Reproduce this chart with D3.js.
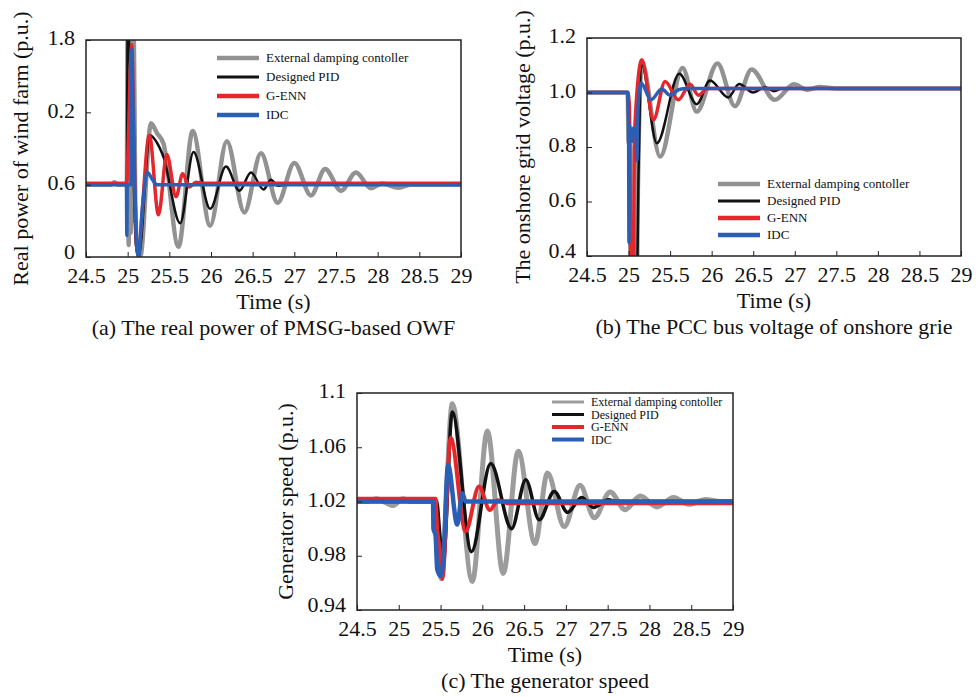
<!DOCTYPE html>
<html>
<head>
<meta charset="utf-8">
<script src="https://cdn.jsdelivr.net/npm/d3@7/dist/d3.min.js"></script>
<style>
  body { margin:0; background:#fff; }
  text { font-family: "Liberation Serif", "Times New Roman", serif; fill:#111; }
</style>
</head>
<body>
<div id="chart"></div>
<script>
// legend names, same for all three panels (typo kept from the figure)
const seriesNames = ["External damping contoller", "Designed PID", "G-ENN", "IDC"]

// x axis, shared
const timeTicks = [24.5, 25, 25.5, 26, 26.5, 27, 27.5, 28, 28.5, 29]
const timeLabels = ["24.5", "25", "25.5", "26", "26.5", "27", "27.5", "28", "28.5", "29"]

// (a) real power, y tick labels are printed like this in the original
const powerTicks = [0, 0.6, 1.2, 1.8]
const powerLabels = ["0", "0.6", "0.2", "1.8"]
const powerExt = [[24.5,0.6],[24.8,0.6],[24.84,0.62],[24.88,0.6],[24.99,0.6],[25.0,2.0],[25.012,0.1],[25.024,2.0],[25.036,0.2],[25.048,2.0],[25.06,0.3],[25.072,2.0],[25.09,0.5],[25.11,0.1],[25.15,0.0],[25.28,1.11],[25.35,1.03],[25.43,0.94],[25.61,0.085],[25.78,1.045],[25.99,0.26],[26.19,0.96],[26.4,0.37],[26.6,0.86],[26.8,0.45],[27.0,0.78],[27.2,0.51],[27.37,0.73],[27.56,0.55],[27.74,0.70],[27.92,0.57],[28.05,0.61],[28.25,0.575],[28.4,0.6],[29,0.6]]
const powerPid = [[24.5,0.6],[24.99,0.6],[25.0,1.9],[25.05,1.2],[25.1,0.1],[25.13,0.0],[25.27,1.01],[25.35,0.95],[25.43,0.83],[25.63,0.28],[25.79,0.87],[25.99,0.40],[26.18,0.75],[26.34,0.55],[26.48,0.70],[26.63,0.56],[26.72,0.64],[26.8,0.59],[26.9,0.6],[29,0.6]]
const powerGenn = [[24.5,0.612],[24.99,0.612],[25.0,0.8],[25.05,1.76],[25.07,1.2],[25.1,0.2],[25.12,0.05],[25.26,1.01],[25.37,0.35],[25.47,0.85],[25.58,0.50],[25.66,0.69],[25.74,0.58],[25.82,0.62],[25.9,0.612],[29,0.612]]
const powerIdc = [[24.5,0.6],[24.985,0.6],[24.99,0.18],[24.995,0.6],[25.04,0.6],[25.05,1.72],[25.07,1.0],[25.09,0.5],[25.11,0.07],[25.13,0.0],[25.17,0.35],[25.21,0.62],[25.235,0.70],[25.3,0.64],[25.35,0.6],[29,0.6]]

// (b) onshore grid voltage
const voltTicks = [0.4, 0.6, 0.8, 1.0, 1.2]
const voltLabels = ["0.4", "0.6", "0.8", "1.0", "1.2"]
const voltExt = [[24.5,1.0],[24.99,1.0],[25.0,0.82],[25.02,0.8],[25.03,0.3],[25.1,0.3],[25.11,0.6],[25.16,1.108],[25.38,0.765],[25.65,1.09],[25.82,0.93],[26.07,1.106],[26.28,0.95],[26.48,1.084],[26.76,0.973],[26.99,1.03],[27.15,1.01],[27.3,1.02],[27.5,1.015],[29,1.015]]
const voltPid = [[24.5,1.0],[24.99,1.0],[25.0,0.82],[25.03,0.3],[25.1,0.3],[25.12,0.7],[25.16,1.1],[25.34,0.814],[25.61,1.069],[25.82,0.957],[25.98,1.044],[26.2,0.982],[26.33,1.031],[26.5,1.0],[26.64,1.019],[26.75,1.005],[26.85,1.015],[29,1.015]]
const voltGenn = [[24.5,1.0],[24.99,1.0],[25.01,0.95],[25.03,0.3],[25.06,0.3],[25.07,0.84],[25.16,1.12],[25.3,0.9],[25.44,1.04],[25.6,0.973],[25.74,1.03],[25.84,0.99],[25.95,1.015],[29,1.015]]
const voltIdc = [[24.5,1.0],[24.99,1.0],[25.0,0.88],[25.005,0.45],[25.01,0.88],[25.04,0.82],[25.06,0.87],[25.09,0.84],[25.1,0.75],[25.115,0.95],[25.15,1.035],[25.27,0.973],[25.4,1.013],[25.5,0.99],[25.6,1.01],[25.7,1.015],[29,1.015]]

// (c) generator speed
const speedTicks = [0.94, 0.98, 1.02, 1.06, 1.1]
const speedLabels = ["0.94", "0.98", "1.02", "1.06", "1.1"]
const speedExt = [[24.5,1.02],[24.62,1.02],[24.73,1.022],[24.85,1.019],[24.93,1.017],[25.05,1.022],[25.15,1.02],[25.45,1.02],[25.47,0.99],[25.51,0.963],[25.64,1.092],[25.88,0.961],[26.06,1.072],[26.25,0.967],[26.43,1.057],[26.63,0.989],[26.78,1.041],[26.98,1.0015],[27.17,1.032],[27.34,1.008],[27.53,1.027],[27.71,1.014],[27.89,1.024],[28.09,1.016],[28.29,1.023],[28.47,1.018],[28.67,1.0215],[28.85,1.02],[29,1.02]]
const speedPid = [[24.5,1.02],[25.45,1.02],[25.5,0.99],[25.53,0.975],[25.64,1.086],[25.87,0.983],[26.1,1.048],[26.35,1.0],[26.52,1.036],[26.68,1.0065],[26.86,1.0274],[27.02,1.012],[27.19,1.023],[27.33,1.0156],[27.51,1.0212],[27.6,1.02],[29,1.02]]
const speedGenn = [[24.5,1.022],[25.44,1.022],[25.46,1.0],[25.49,0.985],[25.52,0.963],[25.62,1.067],[25.8,0.998],[25.96,1.031],[26.09,1.0138],[26.19,1.021],[26.3,1.0188],[29,1.0188]]
const speedIdc = [[24.5,1.02],[25.41,1.02],[25.415,1.0],[25.44,0.995],[25.46,0.97],[25.5,0.965],[25.53,0.975],[25.59,1.047],[25.7,1.003],[25.76,1.026],[25.8,1.02],[29,1.02]]

var W = 976, H = 697
var colours = ["#929292", "#111111", "#e5262b", "#2b5fb5"]

var svg = d3.select("#chart").append("svg")
  .attr("width", W)
  .attr("height", H)

svg.append("rect").attr("width", W).attr("height", H).attr("fill", "#fff")

// one panel = box, axes, 4 lines, legend, captions
function drawPanel(p) {
  var pw = p.right - p.left, ph = p.bottom - p.top
  var g = svg.append("g").attr("transform", `translate(${p.left},${p.top})`)

  var x = d3.scaleLinear().domain([24.5, 29]).range([0, pw])
  var y = d3.scaleLinear().domain(p.yDomain).range([ph, 0])

  g.append("clipPath").attr("id", "clip-" + p.id)
    .append("rect").attr("width", pw).attr("height", ph)

  var line = d3.line()
    .x(d => x(d[0]))
    .y(d => y(d[1]))
    .curve(d3.curveMonotoneX)

  var lines = g.append("g").attr("clip-path", `url(#clip-${p.id})`)
  p.series.forEach(function(s, i) {
    lines.append("path")
      .datum(s)
      .attr("d", line)
      .attr("fill", "none")
      .attr("stroke", p.colours[i])
      .attr("stroke-width", p.widths[i])
      .attr("stroke-linejoin", "round")
  })

  // ticks point inwards
  var xa = g.append("g").attr("transform", `translate(0,${ph})`)
    .call(d3.axisBottom(x).tickValues(timeTicks).tickFormat((d, i) => timeLabels[i]).tickSize(-5).tickPadding(10))
  var ya = g.append("g")
    .call(d3.axisLeft(y).tickValues(p.yTicks).tickFormat((d, i) => p.yLabels[i]).tickSize(-5).tickPadding(11))
  ;[xa, ya].forEach(function(a) {
    a.select(".domain").remove()
    a.selectAll("line").attr("stroke", "#222")
    a.selectAll("text").style("font-family", '"Liberation Serif", "Times New Roman", serif').style("font-size", "22px").attr("fill", "#111")
  })
  // labels sit a touch above their tick in the original,
  // the lowest one a bit more so it clears the 24.5 below it
  ya.selectAll("text").attr("dy", (d, i) => i == 0 ? "0.05em" : "0.22em")

  g.append("rect")
    .attr("width", pw).attr("height", ph)
    .attr("fill", "none").attr("stroke", "#222").attr("stroke-width", 1.5)

  // legend
  var lg = g.append("g").attr("transform", `translate(${p.legend.x},${p.legend.y})`)
  seriesNames.forEach(function(n, i) {
    var yy = i * p.legend.step
    lg.append("line")
      .attr("x1", 0).attr("x2", p.legend.len)
      .attr("y1", yy).attr("y2", yy)
      .attr("stroke", p.colours[i])
      .attr("stroke-width", p.legend.lw[i])
    lg.append("text")
      .attr("x", p.legend.len + 7).attr("y", yy)
      .attr("dy", "0.34em")
      .style("font-size", p.legend.fs + "px")
      .text(n)
  })

  g.append("text")
    .attr("x", pw / 2).attr("y", ph + 52)
    .attr("text-anchor", "middle")
    .style("font-size", "22px")
    .text("Time (s)")

  g.append("text")
    .attr("transform", `translate(${-p.titleOff},${ph / 2}) rotate(-90)`)
    .attr("text-anchor", "middle")
    .style("font-size", "22px")
    .text(p.yTitle)

  g.append("text")
    .attr("x", pw / 2).attr("y", ph + 78)
    .attr("text-anchor", "middle")
    .style("font-size", "22px")
    .text(p.caption)
}

drawPanel({
  id: "a", left: 86, right: 461, top: 40, bottom: 257,
  yDomain: [0, 1.8], yTicks: powerTicks, yLabels: powerLabels,
  series: [powerExt, powerPid, powerGenn, powerIdc],
  colours: colours, widths: [4.5, 2.5, 3.5, 3.5],
  yTitle: "Real power of wind farm (p.u.)", titleOff: 58,
  caption: "(a) The real power of PMSG-based OWF",
  legend: { x: 131, y: 18, step: 19, len: 42, fs: 13, lw: [4.5, 3, 4.5, 4.5] }
})

drawPanel({
  id: "b", left: 587, right: 961, top: 38, bottom: 256,
  yDomain: [0.4, 1.2], yTicks: voltTicks, yLabels: voltLabels,
  series: [voltExt, voltPid, voltGenn, voltIdc],
  colours: colours, widths: [4.5, 2.5, 3.5, 3.5],
  yTitle: "The onshore grid voltage (p.u.)", titleOff: 57,
  caption: "(b) The PCC bus voltage of onshore grie",
  legend: { x: 131, y: 146, step: 17, len: 42, fs: 13, lw: [4.5, 3, 4.5, 4.5] }
})

drawPanel({
  id: "c", left: 357, right: 733, top: 393, bottom: 610,
  yDomain: [0.94, 1.1], yTicks: speedTicks, yLabels: speedLabels,
  series: [speedExt, speedPid, speedGenn, speedIdc],
  colours: ["#9c9c9c", "#111111", "#e5262b", "#2b5fb5"], widths: [5, 3.5, 4, 4.5],
  yTitle: "Generator speed (p.u.)", titleOff: 64,
  caption: "(c) The generator speed",
  legend: { x: 195, y: 9, step: 12.5, len: 32, fs: 12, lw: [3, 3, 4, 4] }
})
</script>
</body>
</html>
